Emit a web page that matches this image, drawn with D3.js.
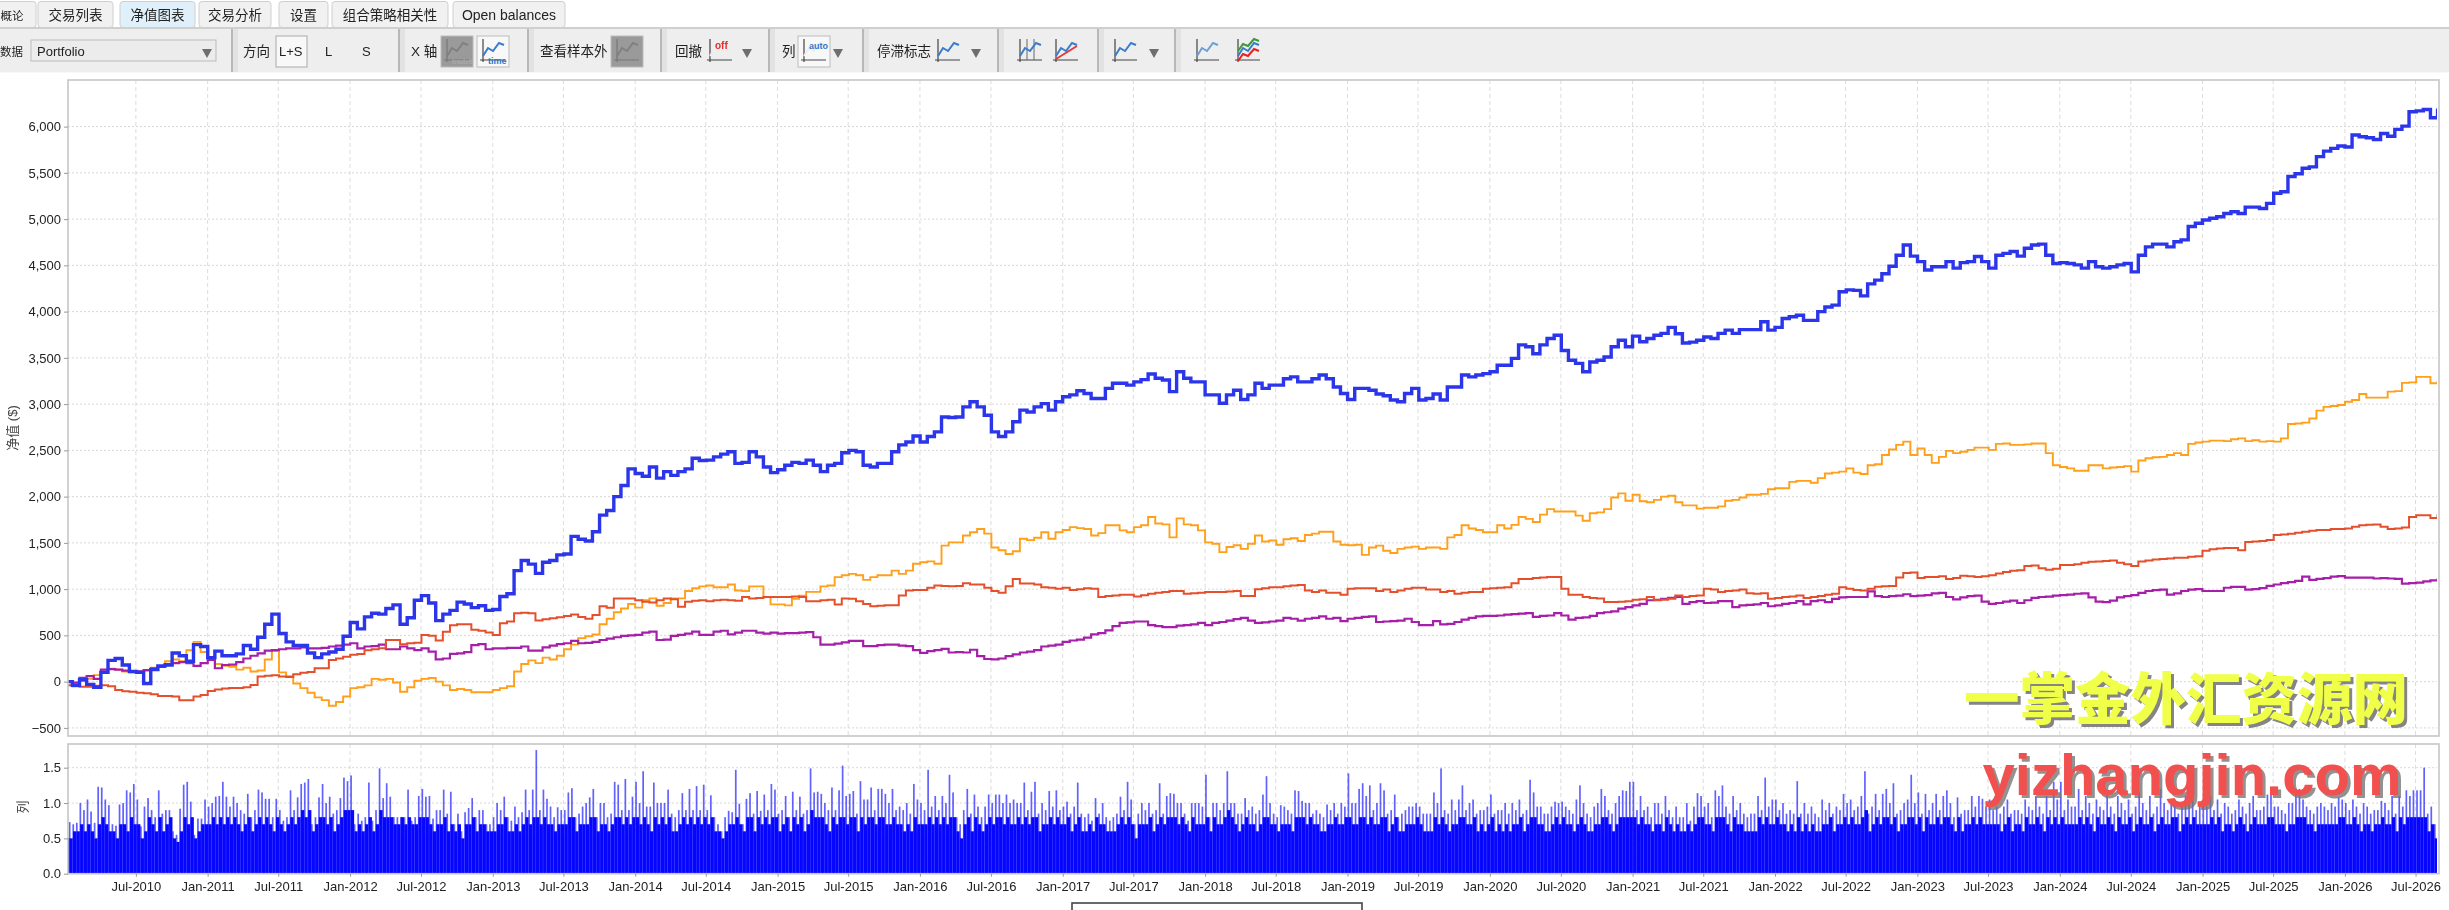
<!DOCTYPE html>
<html>
<head>
<meta charset="utf-8">
<script src="https://cdn.jsdelivr.net/npm/d3@7"></script>
<style>
html, body { margin: 0; padding: 0; background: #fff; overflow: hidden; }
svg { display: block; filter: blur(0.45px); }
text { font-family: "Liberation Sans", "Noto Sans CJK SC", sans-serif; }
</style>
</head>
<body>
<svg id="chart" width="2449" height="910"></svg>
<script>
// equity values, 10 readings per half year starting Jan-2010 (one row = one half year)
var equityPortfolio = [
 0,-40,20,-30,-60,100,230,250,180,110,
 100,-20,130,170,180,310,280,220,400,380,
 260,330,280,280,300,390,350,480,620,730,
 520,430,390,390,310,260,300,320,350,490,
 640,570,700,740,730,790,830,620,690,880,
 930,850,660,730,770,860,840,800,820,770,
 780,920,950,1200,1310,1270,1170,1290,1310,1370,
 1380,1570,1540,1520,1620,1800,1850,2000,2120,2300,
 2250,2220,2320,2200,2270,2230,2270,2300,2415,2390,
 2395,2430,2460,2485,2360,2370,2485,2430,2320,2260,
 2290,2340,2370,2360,2395,2340,2270,2340,2360,2475,
 2500,2485,2340,2320,2360,2360,2485,2560,2590,2655,
 2590,2650,2700,2860,2855,2860,2970,3025,2970,2880,
 2700,2650,2700,2810,2935,2915,2970,3005,2935,3025,
 3080,3100,3145,3115,3060,3060,3170,3225,3225,3205,
 3240,3265,3325,3280,3260,3135,3350,3280,3240,3240,
 3100,3100,3010,3100,3150,3050,3100,3225,3170,3205,
 3205,3275,3295,3240,3240,3275,3315,3275,3185,3115,
 3050,3170,3170,3150,3110,3090,3045,3025,3115,3170,
 3045,3060,3110,3045,3185,3185,3315,3295,3315,3330,
 3350,3420,3420,3495,3640,3620,3545,3640,3710,3745,
 3580,3475,3440,3350,3455,3475,3510,3620,3690,3620,
 3735,3675,3710,3745,3765,3830,3760,3660,3670,3690,
 3725,3710,3765,3800,3765,3805,3805,3805,3890,3800,
 3830,3925,3945,3960,3905,3905,4000,4050,4070,4215,
 4235,4230,4170,4300,4340,4410,4490,4610,4720,4600,
 4540,4450,4485,4485,4540,4470,4530,4540,4595,4540,
 4470,4610,4630,4650,4600,4685,4720,4730,4610,4520,
 4530,4520,4505,4470,4540,4485,4470,4485,4505,4520,
 4430,4610,4700,4730,4730,4700,4755,4775,4920,4955,
 4990,5010,5025,5060,5080,5060,5130,5130,5115,5170,
 5280,5295,5460,5490,5550,5565,5675,5735,5765,5790,
 5780,5910,5890,5880,5860,5925,5895,5970,6005,6160,
 6170,6185,6095,6195
]
var equityOrange = [
 0,-20,10,30,70,110,140,130,110,100,
 100,120,150,170,220,240,220,340,430,320,
 240,190,170,160,130,150,110,120,240,330,
 100,60,-20,-70,-120,-170,-200,-260,-220,-160,
 -70,-60,-40,30,20,30,-10,-110,-60,10,
 30,40,0,-40,-90,-80,-90,-115,-115,-115,
 -90,-70,-50,110,190,230,200,260,240,280,
 350,400,470,490,510,620,680,750,790,840,
 800,880,900,820,850,900,900,980,1010,1030,
 1040,1020,1020,1050,985,980,1030,1030,915,835,
 835,825,895,930,970,970,1030,1040,1130,1150,
 1165,1150,1100,1130,1150,1150,1200,1165,1200,1275,
 1290,1300,1275,1470,1505,1505,1580,1615,1650,1600,
 1450,1420,1380,1410,1545,1530,1555,1615,1545,1615,
 1640,1670,1660,1650,1580,1605,1690,1690,1635,1615,
 1670,1690,1780,1710,1700,1560,1765,1700,1690,1635,
 1505,1490,1400,1455,1475,1435,1490,1580,1515,1525,
 1480,1540,1550,1520,1585,1600,1620,1620,1515,1480,
 1475,1480,1370,1450,1470,1415,1390,1435,1450,1460,
 1435,1450,1450,1435,1560,1585,1690,1655,1640,1615,
 1615,1690,1655,1695,1780,1760,1725,1805,1865,1840,
 1840,1840,1795,1740,1820,1830,1865,1990,2035,1955,
 2020,1950,1940,1965,2000,2010,1940,1905,1905,1870,
 1880,1880,1895,1955,1965,1990,2020,2020,2030,2080,
 2090,2090,2160,2170,2170,2150,2200,2250,2260,2270,
 2305,2260,2245,2340,2350,2450,2510,2560,2595,2450,
 2520,2450,2365,2430,2495,2470,2485,2505,2530,2530,
 2505,2570,2575,2560,2560,2565,2575,2575,2470,2340,
 2320,2305,2280,2280,2340,2340,2305,2315,2320,2330,
 2270,2390,2415,2425,2430,2450,2470,2450,2570,2585,
 2595,2605,2605,2600,2620,2630,2600,2610,2595,2600,
 2595,2630,2785,2790,2800,2845,2930,2970,2980,2990,
 3025,3045,3110,3070,3070,3070,3135,3140,3230,3235,
 3295,3295,3225,3250
]
var equityRed = [
 -40,-50,-55,-55,-45,-40,-50,-90,-105,-110,
 -120,-125,-135,-155,-155,-160,-200,-200,-160,-145,
 -100,-85,-75,-70,-70,-60,-35,55,65,70,
 55,50,80,95,105,145,145,235,250,270,
 290,300,340,350,360,450,450,405,415,420,
 505,495,445,540,610,620,620,560,550,530,
 505,630,650,740,745,740,660,675,685,695,
 710,725,700,680,720,815,800,900,900,900,
 880,865,855,880,900,890,810,865,875,880,
 870,880,885,880,875,915,900,905,915,915,
 915,915,920,915,870,870,880,885,835,900,
 895,870,840,815,820,825,825,930,985,990,
 990,1015,1040,1035,1030,1035,1065,1050,1050,1015,
 980,960,1030,1110,1060,1060,1050,1020,1015,1005,
 1015,990,1000,1010,1005,915,925,930,940,940,
 920,935,950,960,970,980,980,950,955,960,
 970,970,970,975,980,925,925,1000,1010,1020,
 1020,1030,1040,1045,985,970,985,960,960,940,
 1005,1010,1010,1010,980,995,970,985,1005,1015,
 1015,995,995,970,980,950,960,970,970,1005,
 1010,1015,1020,1065,1110,1110,1120,1125,1130,1130,
 1005,940,940,915,905,900,860,860,865,870,
 885,890,915,880,885,895,930,915,925,930,
 1005,995,970,980,985,995,955,950,955,895,
 905,915,920,930,905,915,925,940,950,1020,
 1005,990,985,1005,1025,1030,1035,1125,1175,1180,
 1120,1130,1130,1140,1110,1120,1145,1140,1130,1140,
 1150,1170,1185,1200,1205,1250,1255,1225,1210,1220,
 1260,1260,1270,1285,1295,1300,1305,1310,1285,1270,
 1250,1300,1310,1320,1325,1330,1340,1340,1350,1355,
 1415,1430,1440,1445,1445,1420,1510,1515,1520,1530,
 1585,1590,1600,1610,1620,1630,1640,1640,1650,1650,
 1655,1675,1690,1695,1700,1675,1650,1655,1665,1780,
 1800,1800,1770,1810
]
var equityPurple = [
 0,-10,40,60,30,130,135,130,120,110,
 110,125,145,160,190,200,210,200,170,200,
 235,145,180,185,210,250,280,305,335,340,
 350,360,360,370,360,360,365,380,390,400,
 415,360,380,385,400,350,350,380,360,340,
 360,325,240,250,300,305,320,395,405,350,
 360,360,365,365,380,335,335,370,390,405,
 415,440,415,420,430,450,465,480,495,500,
 505,530,540,450,455,495,505,520,540,505,
 505,540,550,510,530,550,550,530,520,530,
 520,525,525,530,535,480,400,400,410,425,
 440,440,385,385,395,400,400,390,385,340,
 310,330,340,355,315,320,315,345,275,245,
 240,250,275,295,315,325,340,380,390,400,
 430,445,455,475,510,525,555,600,635,640,
 650,650,610,600,590,590,605,610,620,635,
 610,635,645,660,675,690,660,635,640,650,
 660,690,680,660,680,690,705,680,690,655,
 680,690,700,705,645,650,655,660,680,645,
 610,610,655,620,625,645,670,690,705,710,
 710,715,725,730,735,740,700,710,715,740,
 715,670,690,695,710,740,750,760,790,805,
 825,840,880,885,895,905,915,840,860,870,
 850,855,870,870,805,825,830,835,850,815,
 825,840,850,870,835,870,880,860,895,910,
 915,915,915,975,925,915,925,930,945,925,
 930,935,955,960,915,890,910,925,930,865,
 840,850,865,875,850,880,905,915,920,930,
 935,940,950,955,910,865,860,875,910,925,
 935,960,980,990,995,940,955,980,995,1000,
 980,980,980,1015,1025,1025,995,1000,1010,1035,
 1050,1065,1075,1090,1135,1100,1110,1120,1135,1140,
 1125,1125,1125,1125,1115,1120,1115,1110,1060,1065,
 1070,1085,1095,1115
]
// lots: 20 tall bars per half year
var lotsPeaks = [
 .5,.73,.7,.72,1.0,.9,1.05,.88,.72,1.23,1.22,1.05,.97,.7,.68,.98,1.0,1.18,1.15,1.27,
 1.05,.67,.95,1.07,.9,.8,1.18,.85,.9,.9,.6,.55,.92,1.26,1.3,1.02,.55,.78,.78,1.05,
 .95,1.0,1.09,1.1,1.3,1.09,.95,1.09,1.0,.9,.85,1.13,.8,.9,1.19,1.15,1.06,1.06,.8,1.06,
 .9,.75,.8,1.18,.9,1.08,1.27,1.29,1.34,.7,.8,1.08,1.27,1.0,1.09,.85,.9,1.07,1.36,1.31,
 1.39,.7,.85,.75,.8,1.29,.75,.9,1.49,1.07,1.28,1.09,.8,.8,.8,.8,1.19,.75,.8,1.1,
 1.2,1.09,1.1,.78,.9,.9,1.19,.85,1.16,.7,.85,.6,.87,.93,1.07,.8,.9,.9,.7,.7,
 .8,1.0,.9,1.09,.8,.75,.95,.8,.87,1.19,.9,1.19,1.75,.9,1.19,1.06,.95,.8,.94,.9,
 .9,1.15,1.21,.8,.85,.95,1.0,1.08,1.2,.8,1.0,1.0,.8,.85,1.3,1.26,.9,1.34,.9,1.09,
 1.3,1.0,1.45,.95,.95,1.29,1.0,1.0,1.0,1.19,.85,.8,.9,1.14,.9,1.2,.9,1.24,.9,1.26,
 .9,1.11,.8,.7,.6,.8,.89,.87,1.47,.99,.7,1.06,1.14,.85,1.17,.89,1.12,.9,1.27,1.19,
 .85,.9,1.1,.8,1.16,.9,1.09,.85,.9,1.49,1.15,1.16,1.13,1.0,.9,1.22,.9,1.18,1.53,1.1,
 1.13,1.17,.85,1.31,1.05,1.05,1.22,.9,1.2,1.2,1.13,1.0,1.2,.9,.95,.9,1.0,.85,1.27,1.05,
 1.0,.9,1.47,.95,1.1,.9,1.1,1.0,1.4,1.15,.8,.7,.9,1.2,.85,1.12,.95,.8,.95,1.12,
 1.0,1.12,1.12,1.0,1.12,1.0,1.05,1.0,1.0,1.29,.9,1.16,1.3,.85,1.0,.9,1.17,.95,1.18,.9,
 .95,1.02,.85,.95,1.29,.85,.8,.85,.75,1.07,.85,1.0,.8,.75,.8,.85,1.09,.9,1.3,1.05,
 .7,.85,1.0,.9,1.0,.85,.9,1.28,.85,1.1,1.14,1.13,1.0,1.0,.85,.75,1.0,1.0,1.0,.95,
 1.4,.8,1.0,1.0,.9,1.0,1.45,1.0,1.0,.85,.85,1.07,.9,.95,.85,.9,1.12,1.38,1.0,.85,
 .8,.97,.95,.9,.85,1.18,1.17,1.03,1.0,1.0,.85,.9,.85,.8,.98,.9,1.0,.85,1.0,.95,
 1.42,1.0,1.0,1.2,1.28,1.1,1.25,.9,1.0,1.28,1.18,.85,.9,1.12,.8,.85,.9,.95,.95,1.0,
 .95,.85,.85,.85,1.15,1.0,1.49,.9,.85,1.05,.9,1.05,1.25,.9,1.0,1.05,.85,.9,.9,.95,
 1.12,.85,.9,.9,1.0,.85,1.0,.9,1.05,.85,.9,1.33,1.15,.95,.95,.85,.85,.95,1.02,1.0,
 1.02,.95,.9,.85,1.05,1.25,1.0,.85,.8,.95,1.0,1.2,1.1,.9,.85,1.0,1.1,1.18,1.17,1.3,
 1.3,.9,1.1,.9,.95,.8,1.0,1.0,.85,1.1,.9,.8,.95,.8,.8,1.0,.75,.95,1.14,1.1,
 .95,1.0,.8,1.18,1.1,1.25,.95,.85,1.1,.9,1.0,.85,.8,.85,.85,1.1,.9,1.36,.95,1.05,
 1.05,.9,1.0,.85,.9,.85,1.31,.85,1.0,.85,.95,.85,.8,1.05,.9,1.0,.85,.95,.9,1.13,
 1.0,1.05,.9,.95,1.1,1.45,.85,.95,1.13,.9,1.13,1.2,1.0,1.28,.85,.9,1.0,1.05,1.4,1.0,
 1.15,.85,1.13,.9,1.0,1.13,.9,1.1,1.18,1.0,.8,1.08,.85,.9,.9,1.1,.95,1.1,1.06,.95,
 1.05,.9,.95,.85,.95,1.05,.85,.9,.9,.85,1.05,.95,.9,1.1,.95,.85,1.1,.9,1.3,1.05,
 1.3,.9,1.05,.95,.95,1.2,.9,1.1,1.0,.85,1.05,.95,.9,1.15,.95,.85,1.1,1.0,.9,1.05,
 .85,.95,1.15,1.0,.9,1.1,.85,.95,1.2,1.0,.9,1.05,1.05,.85,.95,1.1,1.0,1.35,.9,1.0,
 1.0,.95,1.1,.9,1.05,.85,1.0,.95,.85,.9,1.05,.95,.85,1.0,1.1,.9,.9,.95,1.12,1.12,
 .95,.95,.9,.85,1.0,1.0,1.2,1.2,1.05,.95,.9,.85,.95,1.0,.95,.9,1.0,.95,1.08,1.05,
 1.0,.9,1.05,.95,.85,1.0,.95,.85,.9,.9,1.03,1.0,.9,1.1,.85,1.1,.95,1.18,1.1,1.18,
 1.18,1.18,1.5,.85,.95,.7,.7
]
// lots: the many ordinary bars between the tall ones, 20 per half year
var lotsCommon = [
 .5,.5,.6,.6,.7,.6,.7,.6,.5,.7,.8,.7,.6,.6,.5,.7,.7,.6,.8,.7,
 .7,.5,.6,.8,.7,.6,.8,.6,.7,.8,.5,.45,.6,.8,.7,.8,.5,.6,.7,.7,
 .7,.8,.7,.8,.7,.8,.7,.8,.7,.6,.7,.8,.6,.7,.8,.7,.8,.7,.6,.8,
 .7,.6,.7,.8,.7,.8,.9,.8,.9,.6,.7,.8,.8,.7,.8,.6,.7,.8,.9,.9,
 .9,.6,.7,.6,.7,.8,.6,.7,.9,.8,.8,.8,.7,.7,.8,.7,.8,.7,.7,.8,
 .8,.8,.7,.6,.7,.7,.8,.6,.7,.6,.7,.5,.7,.7,.8,.6,.7,.7,.6,.6,
 .6,.7,.7,.8,.6,.6,.7,.6,.7,.8,.7,.8,.8,.7,.8,.7,.7,.6,.7,.7,
 .7,.8,.8,.6,.7,.7,.7,.8,.8,.6,.7,.7,.6,.7,.8,.8,.7,.8,.7,.8,
 .8,.7,.8,.7,.6,.8,.7,.8,.7,.8,.6,.6,.7,.8,.7,.8,.7,.8,.7,.8,
 .7,.8,.6,.6,.5,.6,.7,.7,.8,.7,.6,.8,.8,.6,.8,.7,.8,.7,.8,.8,
 .6,.7,.8,.6,.8,.7,.8,.6,.7,.9,.8,.8,.8,.7,.6,.8,.7,.8,.8,.7,
 .8,.8,.6,.8,.7,.8,.8,.7,.8,.8,.7,.7,.8,.7,.7,.6,.7,.6,.8,.7,
 .7,.7,.8,.7,.8,.7,.8,.7,.8,.8,.6,.5,.7,.8,.6,.8,.7,.6,.7,.8,
 .7,.8,.8,.7,.8,.7,.7,.8,.7,.8,.7,.8,.8,.6,.7,.7,.8,.7,.8,.7,
 .7,.8,.6,.7,.8,.6,.6,.7,.6,.8,.7,.7,.6,.6,.6,.7,.8,.7,.8,.7,
 .5,.7,.7,.7,.8,.6,.7,.8,.7,.8,.8,.8,.7,.8,.7,.6,.8,.7,.7,.7,
 .8,.6,.8,.7,.7,.8,.9,.8,.7,.6,.7,.8,.7,.7,.6,.7,.8,.8,.7,.7,
 .6,.7,.7,.7,.6,.8,.8,.8,.7,.8,.7,.7,.6,.6,.7,.7,.8,.7,.7,.8,
 .8,.7,.7,.8,.8,.7,.8,.7,.7,.8,.8,.6,.7,.8,.6,.6,.7,.7,.7,.8,
 .7,.6,.6,.6,.8,.7,.8,.7,.6,.7,.7,.8,.8,.7,.7,.8,.6,.7,.6,.7,
 .8,.6,.7,.6,.7,.6,.7,.7,.8,.6,.7,.8,.8,.7,.7,.6,.6,.7,.8,.7,
 .8,.7,.7,.6,.7,.8,.7,.6,.6,.7,.7,.8,.8,.7,.6,.7,.8,.8,.8,.8,
 .8,.7,.8,.7,.7,.6,.7,.7,.6,.8,.7,.6,.7,.6,.6,.7,.6,.7,.8,.8,
 .7,.7,.6,.8,.8,.8,.7,.6,.8,.7,.7,.6,.6,.6,.6,.8,.7,.8,.7,.7,
 .8,.7,.7,.6,.7,.6,.8,.6,.7,.6,.7,.6,.6,.7,.7,.8,.6,.7,.7,.8,
 .7,.8,.7,.7,.8,.9,.6,.7,.8,.7,.8,.8,.7,.8,.6,.7,.7,.8,.8,.7,
 .8,.6,.8,.7,.7,.8,.7,.8,.8,.7,.6,.8,.6,.7,.7,.8,.7,.8,.7,.7,
 .7,.7,.7,.6,.7,.8,.6,.7,.7,.6,.8,.7,.7,.8,.7,.6,.8,.7,.8,.7,
 .8,.7,.7,.7,.7,.8,.7,.8,.7,.6,.8,.7,.7,.8,.7,.6,.8,.7,.7,.8,
 .6,.7,.8,.7,.7,.8,.6,.7,.8,.7,.7,.8,.8,.6,.7,.8,.7,.8,.7,.7,
 .7,.7,.8,.7,.8,.6,.7,.7,.6,.7,.8,.7,.6,.7,.8,.7,.7,.7,.8,.8,
 .7,.7,.7,.6,.7,.7,.8,.8,.8,.7,.7,.6,.7,.7,.7,.7,.7,.7,.8,.8,
 .7,.7,.8,.7,.6,.7,.7,.6,.7,.7,.8,.7,.7,.8,.6,.8,.7,.8,.8,.8,
 .8,.8,.8,.6,.7,.5,.5
]
var timeTicks = ["Jul-2010","Jan-2011","Jul-2011","Jan-2012","Jul-2012","Jan-2013","Jul-2013","Jan-2014","Jul-2014","Jan-2015","Jul-2015","Jan-2016","Jul-2016","Jan-2017","Jul-2017","Jan-2018","Jul-2018","Jan-2019","Jul-2019","Jan-2020","Jul-2020","Jan-2021","Jul-2021","Jan-2022","Jul-2022","Jan-2023","Jul-2023","Jan-2024","Jul-2024","Jan-2025","Jul-2025","Jan-2026","Jul-2026"]
var equityTicks = [-500,0,500,1000,1500,2000,2500,3000,3500,4000,4500,5000,5500,6000]
var lotsTicks = [0,0.5,1,1.5]
var tabNames = ["概论","交易列表","净值图表","交易分析","设置","组合策略相关性","Open balances"]

var svg = d3.select("#chart")
var left = 68, right = 2437
var top1 = 80, bottom1 = 736, top2 = 744, bottom2 = 873.7

var x = d3.scaleTime().domain([new Date(2010,0,8), new Date(2026,7,25)]).range([left,right])
var y1 = d3.scaleLinear().domain([-500,6000]).range([727.9,126.6])
var y2 = d3.scaleLinear().domain([0,1.5]).range([bottom2,767.7])
var parseTick = d3.timeParse("%b-%Y")
var tickDates = timeTicks.map(parseTick)

// date of reading i when there are n readings per half year
function readingDate(i,n) {
    return new Date(new Date(2010,0,1).getTime() + (i/(2*n))*365.25*864e5)
}

function panelGrid(g, yScale, ticks, yTop, yBottom) {
    g.append("g").selectAll("line").data(tickDates).join("line")
        .attr("x1",d=>x(d)).attr("x2",d=>x(d)).attr("y1",yTop).attr("y2",yBottom)
        .attr("stroke","#dcdcdc").attr("stroke-width",1).attr("stroke-dasharray","4,3")
    g.append("g").selectAll("line").data(ticks).join("line")
        .attr("x1",left).attr("x2",right).attr("y1",d=>yScale(d)).attr("y2",d=>yScale(d))
        .attr("stroke","#d8d8d8").attr("stroke-width",1).attr("stroke-dasharray","2,2")
}

function frame(yTop, yBottom) {
    svg.append("rect").attr("x",left).attr("y",yTop).attr("width",right+2-left).attr("height",yBottom-yTop)
        .attr("fill","none").attr("stroke","#c6c6c6").attr("stroke-width",1.6)
}

svg.append("defs").append("clipPath").attr("id","clipTop").append("rect")
    .attr("x",left).attr("y",top1).attr("width",right-left).attr("height",bottom1-top1)
svg.append("defs").append("clipPath").attr("id","clipLots").append("rect")
    .attr("x",left).attr("y",top2).attr("width",right-left).attr("height",bottom2-top2)

// equity panel
panelGrid(svg.append("g"), y1, equityTicks, top1, bottom1)

var stepLine = d3.line().x(d=>x(d.date)).y(d=>y1(d.value)).curve(d3.curveStepAfter)
function addEquity(values,color,width) {
    svg.append("path")
        .datum(values.map((v,i)=>({date:readingDate(i,10),value:v})))
        .attr("d",stepLine)
        .attr("clip-path","url(#clipTop)")
        .attr("fill","none")
        .attr("stroke",color)
        .attr("stroke-width",width)
}
addEquity(equityOrange,"#ff9f1a",1.9)
addEquity(equityPurple,"#a61fa8",2.2)
addEquity(equityRed,"#e5502c",2)
addEquity(equityPortfolio,"#2b35ea",3.4)
frame(top1,bottom1)

var axisLeft1 = d3.axisLeft(y1).tickValues(equityTicks).tickSize(4).tickFormat(d3.format(","))
var gy1 = svg.append("g").attr("transform","translate("+left+",0)").call(axisLeft1)

// lots panel
panelGrid(svg.append("g"), y2, lotsTicks.slice(1), top2, bottom2)
var lotsLayer = svg.append("g").attr("clip-path","url(#clipLots)")
lotsLayer.append("g").selectAll("rect").data(lotsPeaks).join("rect")
    .attr("x",(d,i)=>x(readingDate(i,20)))
    .attr("y",d=>y2(d))
    .attr("width",1.7)
    .attr("height",d=>y2(0)-y2(d))
    .attr("fill","#0000ff")
    .attr("fill-opacity",0.62)
lotsLayer.append("g").selectAll("rect").data(lotsCommon).join("rect")
    .attr("x",(d,i)=>x(readingDate(i,20))+0.6)
    .attr("y",d=>y2(d))
    .attr("width",3.3)
    .attr("height",d=>y2(0)-y2(d))
    .attr("fill","#0606ff")
frame(top2,bottom2)

var gy2 = svg.append("g").attr("transform","translate("+left+",0)")
    .call(d3.axisLeft(y2).tickValues(lotsTicks).tickSize(4).tickFormat(d3.format(".1f")))
var gx = svg.append("g").attr("transform","translate(0,"+bottom2+")")
    .call(d3.axisBottom(x).tickValues(tickDates).tickSize(3).tickPadding(5).tickFormat(d3.timeFormat("%b-%Y")))
;[gy1,gy2,gx].forEach(g=>{
    g.select(".domain").remove()
    g.selectAll("line").attr("stroke","#999")
    g.selectAll("text").attr("font-size",13).attr("fill","#222").attr("font-family",'"Liberation Sans"')
})

function axisTitle(label,cx,cy,size) {
    svg.append("text").attr("transform","translate("+cx+","+cy+") rotate(-90)")
        .attr("text-anchor","middle").attr("font-size",size).attr("fill","#444")
        .attr("font-family",'"Noto Sans CJK SC"').text(label)
}
axisTitle("净值 ($)",17,428,13)
axisTitle("列",27,807,13)

// legend box, cut by the bottom of the window
svg.append("rect").attr("x",1072).attr("y",903).attr("width",290).attr("height",20)
    .attr("fill","#fff").attr("stroke","#444").attr("stroke-width",1.6)

// watermarks
function stamp(label,cx,cy,size,fill,font,weight,dx,dy,shade) {
    svg.append("text").attr("x",cx+dx).attr("y",cy+dy).attr("text-anchor","middle").attr("font-size",size)
        .attr("font-family",font).attr("font-weight",weight).attr("fill",shade).attr("fill-opacity",0.8).text(label)
    svg.append("text").attr("x",cx).attr("y",cy).attr("text-anchor","middle").attr("font-size",size)
        .attr("font-family",font).attr("font-weight",weight).attr("fill",fill).text(label)
}
stamp("一掌金外汇资源网",2186,719,55.5,"#f0ff48",'"Noto Sans CJK SC"',900,3,3,"#666")
stamp("yizhangjin.com",2192,795,58,"#f2504e",'"Liberation Sans"',700,3,3,"#777")

// top chrome: tabs and toolbar
var toolbar = svg.append("g")
var tabBoxes = [[-10,36],[38,113],[120,195],[199,271],[279,328],[332,448],[453,565]]
toolbar.append("rect").attr("x",0).attr("y",27).attr("width",2449).attr("height",45).attr("fill","#eeeeee")
toolbar.append("line").attr("x1",0).attr("x2",2449).attr("y1",28).attr("y2",28).attr("stroke","#c4c4c4").attr("stroke-width",1.5)
toolbar.append("line").attr("x1",0).attr("x2",2449).attr("y1",72.5).attr("y2",72.5).attr("stroke","#f8f8f8")
tabBoxes.forEach((b,i)=>{
    toolbar.append("rect").attr("x",b[0]).attr("y",1.5).attr("width",b[1]-b[0]).attr("height",26).attr("rx",3)
        .attr("fill",i==2?"#dff0fa":"#f1f1f1").attr("stroke","#cfcfcf")
    toolbar.append("text").attr("x",i==0?12:(b[0]+b[1])/2).attr("y",19.5).attr("text-anchor","middle")
        .attr("font-size",i==0?11.5:(i==6?14:13.5)).attr("fill","#222").attr("font-family",i==6?'"Liberation Sans"':'"Noto Sans CJK SC"').text(tabNames[i])
})
;[231,398,527,660,768,862,997,1097,1174].forEach(sx=>{
    toolbar.append("rect").attr("x",sx).attr("y",29).attr("width",2).attr("height",43).attr("fill","#b8b8b8")
    toolbar.append("rect").attr("x",sx+2).attr("y",29).attr("width",5).attr("height",43).attr("fill","#e2e2e2")
})
function barText(label,tx,size,font) {
    toolbar.append("text").attr("x",tx).attr("y",56).attr("font-size",size||13.5).attr("fill","#222")
        .attr("font-family",font||'"Noto Sans CJK SC"').text(label)
}
barText("数据",0,11.5)
toolbar.append("rect").attr("x",31).attr("y",40).attr("width",185).attr("height",21).attr("fill","#ececec").attr("stroke","#bbb")
barText("Portfolio",37,13,'"Liberation Sans"')
barText("方向",243)
toolbar.append("rect").attr("x",276).attr("y",36).attr("width",31).attr("height",31).attr("fill","#f8f8f8").attr("stroke","#aaa")
barText("L+S",279,13,'"Liberation Sans"')
barText("L",325,13,'"Liberation Sans"')
barText("S",362,13,'"Liberation Sans"')
barText("X 轴",411)
barText("查看样本外",540,13.5)
barText("回撤",675)
barText("列",782)
barText("停滞标志",877)

function arrow(ax) {
    toolbar.append("path").attr("d","M"+(ax-5)+",49 h10 l-5,9 z").attr("fill","#6e6e6e")
}
;[207,747,838,976,1154].forEach(arrow)

// small toolbar pictures
function miniChart(ix,opts) {
    var g = toolbar.append("g").attr("transform","translate("+ix+",36)")
    if (opts.box) g.append("rect").attr("x",-3).attr("y",0).attr("width",32).attr("height",31).attr("fill",opts.box).attr("stroke","#bbb")
    g.append("path").attr("d","M3,3 V26 M0,24 H25").attr("stroke",opts.axis||"#444").attr("fill","none").attr("stroke-width",1.2)
    if (opts.bars) g.append("path").attr("d","M10,3 V24 M17,3 V24").attr("stroke","#666").attr("stroke-width",1)
    g.append("path").attr("d","M3,20 L8,12 L13,15 L19,7 L24,9").attr("stroke",opts.line||"#3a7ccc").attr("fill","none").attr("stroke-width",2)
    if (opts.red) g.append("path").attr("d","M3,23 L24,10").attr("stroke","#e23b3b").attr("fill","none").attr("stroke-width",2)
    if (opts.multi) {
        g.append("path").attr("d","M3,15 L8,8 L13,10 L19,3 L24,5").attr("stroke","#3a9a3a").attr("fill","none").attr("stroke-width",2)
        g.append("path").attr("d","M3,25 L8,18 L13,20 L19,13 L24,15").attr("stroke","#e82020").attr("fill","none").attr("stroke-width",2)
    }
    if (opts.note) g.append("text").attr("x",8).attr("y",opts.noteY||28).attr("font-size",opts.noteSize||8).attr("font-weight",700).attr("fill",opts.noteColor).attr("font-family",'"Liberation Sans"').text(opts.note)
}
miniChart(444,{box:"#9a9a9a",axis:"#777",line:"#808080",note:"trades",noteColor:"#aaa",noteSize:7})
miniChart(480,{box:"#f8f8f8",note:"time",noteColor:"#2e76c8",noteSize:9})
miniChart(614,{box:"#9a9a9a",axis:"#777",line:"#808080"})
miniChart(707,{line:"#eeeeee",note:"off",noteColor:"#e03030",noteY:13,noteSize:10})
miniChart(801,{box:"#f8f8f8",line:"#eeeeee",note:"auto",noteColor:"#2e76c8",noteY:13,noteSize:9})
miniChart(935,{})
miniChart(1017,{bars:true})
miniChart(1053,{red:true})
miniChart(1112,{})
miniChart(1194,{line:"#6c9fd8"})
miniChart(1235,{multi:true})
</script>
</body>
</html>
